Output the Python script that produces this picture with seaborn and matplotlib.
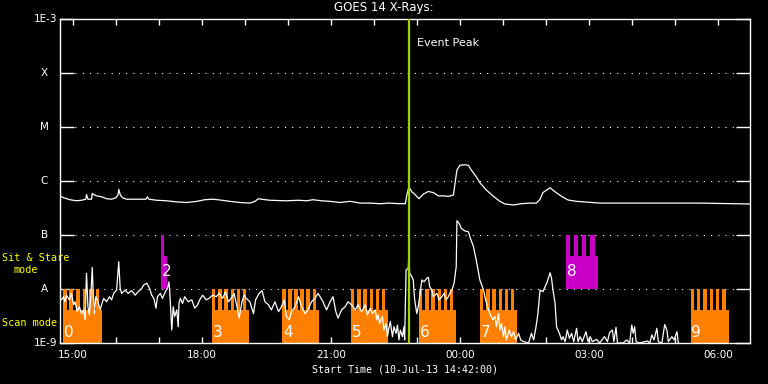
import numpy as np
import pandas as pd
import matplotlib
matplotlib.use('Agg')
import matplotlib.pyplot as plt
import matplotlib.dates as mdates
from matplotlib.ticker import NullLocator, NullFormatter
import seaborn as sns

# GOES 14 X-ray flux, minutes after the start time (10-Jul-13 14:42:00)
START = pd.Timestamp('2013-07-10 14:42:00')

# short channel (0.5-4 A), flux in 1e-9 W/m^2
short_min = [2, 5, 7, 9, 13, 16, 19, 21, 24, 27, 30, 33, 35, 37, 39, 41, 43, 45, 46, 48,
             50, 53, 56, 58, 61, 65, 69, 72, 75, 79, 82, 84, 86, 91, 95, 100, 105, 109, 114, 117,
             121, 125, 128, 131, 134, 136, 140, 143, 147, 150, 152, 153, 156, 158, 160, 163, 165, 166, 168, 171,
             174, 179, 184, 188, 192, 195, 199, 204, 208, 213, 218, 222, 227, 231, 235, 240, 243, 247, 250, 254,
             257, 260, 265, 270, 273, 278, 282, 286, 291, 295, 300, 305, 309, 313, 316, 320, 323, 328, 333, 337,
             342, 346, 351, 356, 360, 363, 367, 372, 377, 381, 385, 388, 393, 398, 402, 407, 412, 416, 421, 426,
             429, 433, 436, 440, 442, 444, 446, 450, 452, 455, 457, 459, 461, 464, 466, 469, 471, 473, 475, 478,
             480, 481, 483, 486, 487, 488, 491, 493, 495, 498, 500, 502, 505, 508, 512, 514, 516, 519, 521, 526,
             529, 533, 536, 539, 542, 544, 547, 550, 553, 554, 557, 560, 565, 570, 572, 577, 581, 586, 591, 594,
             598, 600, 604, 607, 609, 612, 614, 616, 619, 621, 623, 627, 630, 633, 636, 640, 643, 647, 654, 658,
             661, 664, 667, 670, 674, 677, 680, 684, 686, 688, 691, 693, 697, 700, 702, 705, 708, 711, 714, 717,
             721, 723, 726, 729, 734, 737, 740, 743, 749, 753, 760, 764, 767, 771, 773, 776, 778, 786, 791, 795,
             798, 800, 802, 804, 809, 820, 823, 826, 829, 833, 835, 840, 844, 847, 849, 854, 857, 861, 863, 870,
             963]
short_nw = [6.3, 7.2, 5.8, 7.7, 6.3, 8.3, 5.1, 5.8, 3.8, 4.7, 3.5, 4.1, 2.7, 19.5, 4.7, 3.3, 7.2, 25, 11, 3.5,
            7.2, 5.8, 4.1, 5.1, 6.7, 5.8, 7.2, 6.3, 8.3, 9.6, 32, 10.3, 8.3, 9.6, 8.3, 9.3, 7.7, 8.9, 10.3, 11.9,
            12.8, 10.3, 7.7, 6.7, 4.4, 7.2, 8.3, 6.7, 8.9, 10.3, 13.6, 9.6, 1.74, 4.7, 3.1, 4.1, 2.0, 5.4, 6.7, 5.4,
            7.2, 5.8, 6.3, 4.4, 5.1, 6.3, 7.7, 6.3, 6.7, 7.7, 7.2, 8.3, 6.7, 8.9, 5.8, 7.0, 8.3, 4.7, 2.9, 5.8,
            7.7, 6.7, 5.8, 3.5, 6.3, 8.3, 9.3, 5.8, 5.1, 4.1, 5.8, 3.8, 4.7, 6.3, 3.1, 2.7, 3.8, 4.7, 7.2, 4.7,
            3.5, 4.1, 5.8, 6.7, 8.3, 7.2, 5.8, 4.1, 5.8, 7.2, 3.8, 2.9, 4.1, 4.7, 5.8, 5.1, 4.1, 5.1, 3.8, 5.1,
            3.3, 4.4, 3.5, 4.1, 2.7, 3.3, 2.3, 3.1, 1.74, 2.3, 1.31, 1.87, 2.5, 1.31, 2.0, 1.51, 2.15, 1.14, 1.74, 1.31,
            2.0, 1.14, 22.5, 24, 46, 19.5, 17, 14.7, 6.3, 3.5, 4.7, 7.2, 14.7, 13.6, 15.8, 16.5, 11, 9.6, 7.2, 8.3,
            6.3, 7.2, 8.3, 6.3, 7.2, 8.3, 9.6, 12.8, 26, 184, 165, 133, 119, 115, 93, 61, 34, 14.7, 9.6, 6.3,
            4.1, 3.5, 2.7, 3.1, 2.0, 3.5, 1.74, 2.3, 1.31, 2.0, 1.14, 1.74, 1.31, 1.62, 1.14, 1.51, 1.14, 1.06, 1.0, 1.51,
            1.14, 1.87, 3.5, 9.6, 8.9, 11, 13.6, 20, 15.8, 9.6, 5.4, 2.0, 1.51, 1.14, 1.31, 1.06, 1.74, 1.22, 1.51, 1.06,
            1.87, 1.06, 1.31, 1.06, 1.62, 1.06, 1.31, 1.06, 1.17, 1.0, 1.31, 1.06, 1.55, 1.74, 1.06, 1.95, 1.0, 1.0, 1.14, 1.0,
            2.15, 1.51, 2.0, 1.06, 1.0, 1.09, 1.0, 1.41, 1.14, 1.87, 1.06, 1.0, 2.2, 1.74, 1.06, 1.31, 1.14, 1.62, 1.0, 0.9,
            0.9]

# long channel (1-8 A), flux in 1e-7 W/m^2
long_min = [0, 5, 14, 23, 30, 36, 37, 39, 44, 45, 47, 51, 58, 65, 72, 78, 81, 82, 84, 87,
            93, 107, 120, 122, 124, 135, 149, 163, 177, 191, 202, 214, 226, 237, 251, 265, 272, 277, 281, 293,
            316, 333, 344, 353, 365, 377, 391, 405, 419, 433, 447, 460, 474, 482, 484, 487, 491, 495, 501, 507,
            514, 521, 528, 535, 542, 549, 554, 558, 565, 570, 574, 581, 586, 595, 605, 614, 621, 633, 644, 656,
            665, 670, 674, 684, 691, 700, 709, 721, 753, 823, 893, 963]
long_e7 = [5.3, 4.9, 4.5, 4.3, 4.4, 4.6, 5.6, 4.6, 4.6, 5.9, 5.6, 5.3, 5.1, 4.7, 4.6, 4.9, 5.5, 7.0, 5.6, 4.9,
           4.6, 4.6, 4.6, 5.1, 4.6, 4.4, 4.3, 4.1, 4.0, 4.2, 4.5, 4.6, 4.4, 4.2, 4.0, 3.9, 4.2, 4.7, 4.6, 4.4,
           4.3, 4.4, 4.3, 4.5, 4.3, 4.2, 4.0, 4.2, 3.9, 3.9, 3.8, 3.9, 3.8, 3.8, 5.5, 7.8, 6.3, 5.7, 4.7, 5.7,
           6.4, 6.1, 5.3, 5.3, 5.2, 5.5, 16, 19.5, 20, 19.5, 16, 12, 9.3, 6.8, 5.2, 4.2, 3.75, 3.6, 3.8, 3.9,
           3.9, 4.6, 6.1, 7.5, 6.3, 5.2, 4.45, 4.2, 3.9, 3.9, 3.9, 3.75]

# IRIS observation blocks (minutes after start)
block_labels = ['0', '2', '3', '4', '5', '6', '7', '8', '9']
block_start = [4, 141, 212, 310, 406, 501, 586, 706, 880]
block_end = [59, 149, 264, 361, 458, 553, 638, 751, 933]
block_teeth = [6, 1, 6, 6, 6, 6, 6, 4, 6]
block_mode = ['scan', 'sit', 'scan', 'scan', 'scan', 'scan', 'scan', 'sit', 'scan']

# floor, base top, tooth top, label height, colour
MODES = {
    'scan': (1e-9, 4.1e-9, 1e-8, 1.55e-9, '#ff8000'),
    'sit': (1e-8, 4.1e-8, 1e-7, 2.07e-8, '#c800c8'),
}

event_min = 487
end_min = 963

y_levels = [1e-3, 1e-4, 1e-5, 1e-6, 1e-7, 1e-8, 1e-9]
y_names = ['1E-3', 'X', 'M', 'C', 'B', 'A', '1E-9']

MONO = 'DejaVu Sans Mono'


def to_num(minutes):
    t = START + pd.to_timedelta(minutes, unit='min')
    return mdates.date2num(t.to_pydatetime())


sns.set_theme(style='ticks', rc={
    'figure.facecolor': 'black', 'axes.facecolor': 'black',
    'axes.edgecolor': 'white', 'text.color': 'white',
    'xtick.color': 'white', 'ytick.color': 'white',
})
plt.rcParams['font.family'] = ['DejaVu Sans']

fig = plt.figure(figsize=(7.68, 3.84), dpi=100)
ax = fig.add_axes([60 / 768, 41 / 384, 690 / 768, 324 / 384])
ax.set_yscale('log')
ax.set_ylim(1e-9, 1e-3)
ax.set_xlim(to_num(0), to_num(end_min))

# dotted flare-class lines
for lev in y_levels[1:-1]:
    ax.axhline(lev, xmin=0.022, xmax=0.981, color='white', lw=0.8,
               linestyle=(0, (1, 5.5)), zorder=1)

# observation blocks: a base bar plus a comb of short rasters
for lab, s, e, n, mode in zip(block_labels, block_start, block_end, block_teeth, block_mode):
    floor, base, top, lab_y, col = MODES[mode]
    x0, x1 = to_num(s), to_num(e)
    ax.bar(x0, base - floor, width=x1 - x0, bottom=floor, align='edge',
           color=col, linewidth=0, antialiased=False, zorder=2)
    period = (x1 - x0) / n
    for i in range(n):
        ax.bar(x0 + i * period, top - floor, width=0.56 * period, bottom=floor,
               align='edge', color=col, linewidth=0, antialiased=False, zorder=2)
    ax.text(to_num(s + 1), lab_y, lab, color='white', fontsize=11,
            ha='left', va='center', zorder=6)

short_df = pd.DataFrame({'time': to_num(short_min), 'flux': np.array(short_nw) * 1e-9})
long_df = pd.DataFrame({'time': to_num(long_min), 'flux': np.array(long_e7) * 1e-7})
sns.lineplot(data=long_df, x='time', y='flux', color='white', linewidth=0.9,
             estimator=None, sort=False, ax=ax, zorder=3)
sns.lineplot(data=short_df, x='time', y='flux', color='white', linewidth=0.9,
             estimator=None, sort=False, ax=ax, zorder=3)

# event peak marker
ev = to_num(event_min)
ax.axvline(ev, color='#a4d000', lw=1.6, zorder=4)
ax.annotate('Event Peak', xy=(ev, 0.926), xycoords=('data', 'axes fraction'),
            xytext=(5.5, 0), textcoords='offset points', color='white',
            fontsize=8, ha='left', va='center')

# axes styling
for sp in ax.spines.values():
    sp.set_color('white')
    sp.set_linewidth(1.0)
    sp.set_visible(True)

ax.set_yticks(y_levels)
ax.yaxis.set_minor_locator(NullLocator())
ax.yaxis.set_major_formatter(NullFormatter())
ax.tick_params(axis='y', which='major', direction='in', left=True, right=True,
               length=10, width=1, color='white')
for lev, name in zip(y_levels, y_names):
    if name.startswith('1E'):
        ax.text(-0.004, lev, name, transform=ax.get_yaxis_transform(),
                ha='right', va='center', color='white', fontsize=7.5)
    else:
        ax.text(-0.023, lev, name, transform=ax.get_yaxis_transform(),
                ha='center', va='center', color='white', fontsize=7.5)

ax.xaxis.set_major_locator(mdates.HourLocator(byhour=range(0, 24, 3)))
ax.xaxis.set_minor_locator(mdates.HourLocator())
ax.xaxis.set_major_formatter(mdates.DateFormatter('%H:%M'))
ax.tick_params(axis='x', which='both', direction='in', top=True, bottom=True,
               length=4.3, width=1, color='white', labelcolor='white',
               labelsize=7.5, pad=5)
ax.set_xlabel('')
ax.set_ylabel('')

fig.text(0.5, 1 - 8 / 384, 'GOES 14 X-Rays:', ha='center', va='center',
         color='white', fontsize=8.5)
fig.text(405 / 768, 1 - 369 / 384, 'Start Time (10-Jul-13 14:42:00)',
         ha='center', va='center', color='white', fontsize=7.2, family=MONO)

# observing mode labels on the left
fig.text(2 / 768, 1 - 258 / 384, 'Sit & Stare', ha='left', va='center',
         color='yellow', fontsize=7.3, family=MONO)
fig.text(13 / 768, 1 - 270 / 384, 'mode', ha='left', va='center',
         color='yellow', fontsize=7.3, family=MONO)
fig.text(2 / 768, 1 - 323 / 384, 'Scan mode', ha='left', va='center',
         color='yellow', fontsize=7.3, family=MONO)

fig.savefig('out.png', dpi=100, facecolor='black')
